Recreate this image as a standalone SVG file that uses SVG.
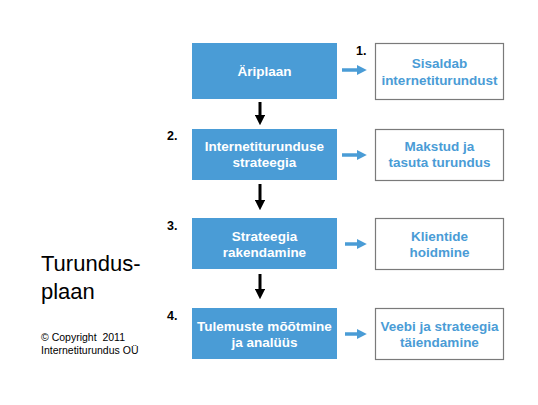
<svg xmlns="http://www.w3.org/2000/svg" width="538" height="405" viewBox="0 0 538 405">
<style>
.step{fill:#4a9cd6;}
.res{fill:#fff;stroke:#7a7a7a;stroke-width:1.2;}
.st{font-family:"Liberation Sans",Arial,sans-serif;font-weight:bold;font-size:13.5px;fill:#fff;text-anchor:middle;}
.rt{font-family:"Liberation Sans",Arial,sans-serif;font-weight:bold;font-size:13.5px;fill:#4a9cd6;text-anchor:middle;}
.num{font-family:"Liberation Sans",Arial,sans-serif;font-weight:bold;font-size:12.5px;fill:#000;}
.big{font-family:"Liberation Sans",Arial,sans-serif;font-size:22px;fill:#000;}
.small{font-family:"Liberation Sans",Arial,sans-serif;font-size:10.5px;fill:#000;}
.down{stroke:#000;stroke-width:3;fill:none;marker-end:url(#hb);}
.right{stroke:#4a9cd6;stroke-width:3.5;fill:none;marker-end:url(#hu);}
</style>
<defs>
<marker id="hb" viewBox="0 0 10 10" refX="0" refY="5" markerWidth="3.4" markerHeight="3.4" orient="auto" markerUnits="strokeWidth">
<path d="M0,0 L10,5 L0,10 Z" fill="#000"/>
</marker>
<marker id="hu" viewBox="0 0 10 10" refX="0" refY="5" markerWidth="2.8" markerHeight="2.8" orient="auto" markerUnits="strokeWidth">
<path d="M0,0 L10,5 L0,10 Z" fill="#4a9cd6"/>
</marker>
</defs>
<rect width="538" height="405" fill="#fff"/>

<g id="connectors">
<line class="down" x1="260" y1="102" x2="260" y2="115"/>
<line class="down" x1="260" y1="184" x2="260" y2="200"/>
<line class="down" x1="260" y1="274" x2="260" y2="289"/>
<line class="right" x1="342" y1="70" x2="357" y2="70"/>
<line class="right" x1="342" y1="155" x2="357" y2="155"/>
<line class="right" x1="345" y1="244" x2="357" y2="244"/>
<line class="right" x1="345" y1="334" x2="357" y2="334"/>
</g>

<g id="step1">
<rect class="step" x="192" y="43" width="145" height="56"/>
<text class="st" x="264.5" y="76">Äriplaan</text>
</g>
<g id="step2">
<rect class="step" x="192" y="129" width="145" height="51"/>
<text class="st" x="264.5" y="151">Internetiturunduse</text>
<text class="st" x="264.5" y="167">strateegia</text>
</g>
<g id="step3">
<rect class="step" x="192" y="218" width="145" height="51"/>
<text class="st" x="264.5" y="241">Strateegia</text>
<text class="st" x="264.5" y="257">rakendamine</text>
</g>
<g id="step4">
<rect class="step" x="192" y="308" width="145" height="51"/>
<text class="st" x="264.5" y="331">Tulemuste mõõtmine</text>
<text class="st" x="264.5" y="347">ja analüüs</text>
</g>

<g id="result1">
<rect class="res" x="375.5" y="43.5" width="128" height="56"/>
<text class="rt" x="439.5" y="68">Sisaldab</text>
<text class="rt" x="439.5" y="85">internetiturundust</text>
</g>
<g id="result2">
<rect class="res" x="375.5" y="129.5" width="128" height="51"/>
<text class="rt" x="439.5" y="151">Makstud ja</text>
<text class="rt" x="439.5" y="167">tasuta turundus</text>
</g>
<g id="result3">
<rect class="res" x="375.5" y="218.5" width="128" height="51"/>
<text class="rt" x="439.5" y="241">Klientide</text>
<text class="rt" x="439.5" y="257">hoidmine</text>
</g>
<g id="result4">
<rect class="res" x="375.5" y="308.5" width="128" height="51"/>
<text class="rt" x="439.5" y="331">Veebi ja strateegia</text>
<text class="rt" x="439.5" y="347">täiendamine</text>
</g>

<g id="numbers">
<text class="num" x="356" y="55">1.</text>
<text class="num" x="167" y="140">2.</text>
<text class="num" x="167" y="230">3.</text>
<text class="num" x="167" y="320">4.</text>
</g>

<g id="title">
<text class="big" x="41" y="271">Turundus-</text>
<text class="big" x="41" y="299">plaan</text>
</g>
<g id="copyright">
<text class="small" x="41" y="341" xml:space="preserve">© Copyright  2011</text>
<text class="small" x="41" y="354">Internetiturundus OÜ</text>
</g>
</svg>
